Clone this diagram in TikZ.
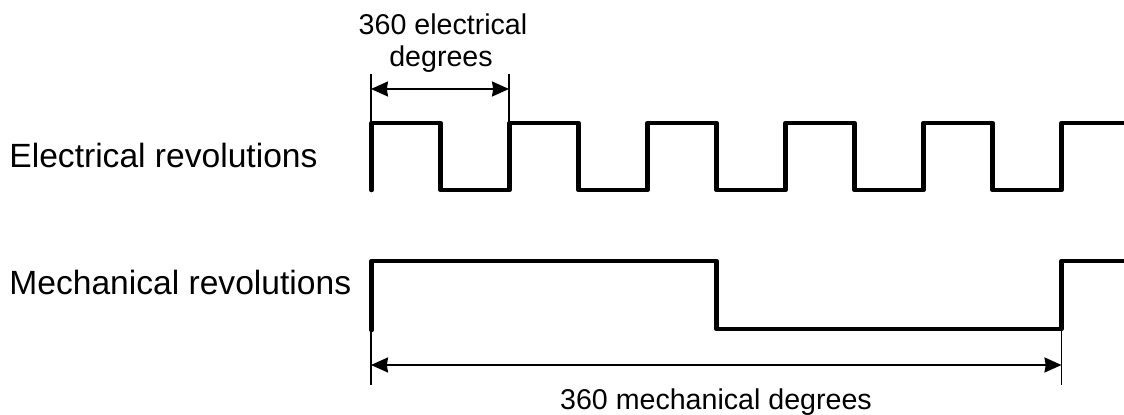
\documentclass[tikz,border=0pt]{standalone}
\usepackage{fontspec}
\setmainfont{Liberation Sans}
\usetikzlibrary{arrows.meta}
\begin{document}
\begin{tikzpicture}[x=0.5pt,y=-0.5pt,
  wave/.style={line width=2.3pt,line cap=round,line join=round},
  thinline/.style={line width=0.8pt},
  dimarrow/.style={line width=1pt,{Stealth[length=8.5pt,width=7.5pt,inset=0.6pt]}-{Stealth[length=8.5pt,width=7.5pt,inset=0.6pt]}},
  biglabel/.style={font=\fontsize{16.8pt}{19pt}\selectfont,inner sep=0pt},
  smalllabel/.style={font=\fontsize{14.3pt}{17pt}\selectfont,inner sep=0pt}]
\useasboundingbox (0,0) rectangle (1124,415);
% labels
\node[biglabel,anchor=base west] (elab) at (9,168) {Electrical revolutions};
\node[biglabel,anchor=base west] (mlab) at (9,295) {Mechanical revolutions};
\node[smalllabel,anchor=base] (et1) at (443,35) {360 electrical};
\node[smalllabel,anchor=base] (et2) at (441,67) {degrees};
\node[smalllabel,anchor=base] (mt) at (716,410) {360 mechanical degrees};
% electrical waveform
\draw[wave] (371.5,190) -- (371.5,123)
  -- (440.5,123) -- (440.5,190) -- (509.5,190) -- (509.5,123)
  -- (578.5,123) -- (578.5,190) -- (647.5,190) -- (647.5,123)
  -- (716.5,123) -- (716.5,190) -- (785.5,190) -- (785.5,123)
  -- (854.5,123) -- (854.5,190) -- (923.5,190) -- (923.5,123)
  -- (992.5,123) -- (992.5,190) -- (1061.5,190) -- (1061.5,123)
  -- (1130,123);
% mechanical waveform
\draw[wave] (371.5,330) -- (371.5,261) -- (716.5,261) -- (716.5,329)
  -- (1061.5,329) -- (1061.5,261) -- (1130,261);
% electrical dimension
\coordinate (ea) at (371,74);
\coordinate (eb) at (509,74);
\coordinate (ea2) at (371,122);
\coordinate (eb2) at (509,122);
\coordinate (eaa) at (371,89);
\coordinate (ebb) at (509,89);
\draw[thinline] (ea) -- (ea2);
\draw[thinline] (eb) -- (eb2);
\draw[dimarrow] (eaa) -- (ebb);
% mechanical dimension
\coordinate (ma) at (371,385);
\coordinate (mb) at (1061.5,385);
\coordinate (ma2) at (371,330);
\coordinate (mb2) at (1061.5,329);
\coordinate (maa) at (371,365);
\coordinate (mbb) at (1061.5,365);
\draw[thinline] (ma2) -- (ma);
\draw[thinline] (mb2) -- (mb);
\draw[dimarrow] (maa) -- (mbb);
\end{tikzpicture}
\end{document}
